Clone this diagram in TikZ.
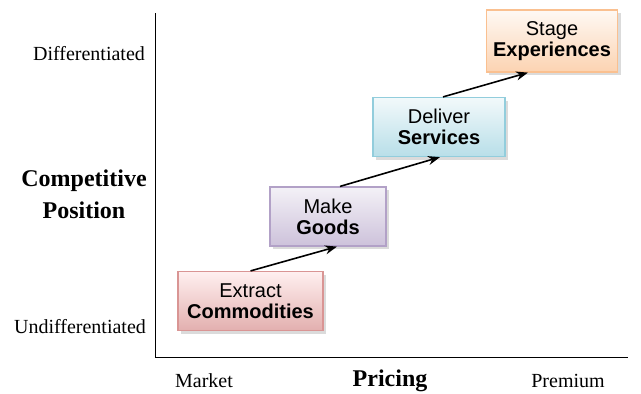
\documentclass[tikz,border=0pt]{standalone}
\usepackage{fontspec}
\setmainfont{Liberation Serif}
\setsansfont{Liberation Sans}
\usetikzlibrary{shadows,arrows.meta}
\definecolor{commline}{HTML}{D99594}
\definecolor{goodline}{HTML}{B2A1C7}
\definecolor{servline}{HTML}{92CDDC}
\definecolor{expline}{HTML}{FAC090}
\begin{document}
\begin{tikzpicture}[x=0.5pt,y=-0.5pt,
  stage/.style={draw, line width=0.6pt, minimum height=29.5pt, align=center,
    font=\sffamily\fontsize{10}{10.5}\selectfont,
    drop shadow={shadow xshift=1.5pt, shadow yshift=-1.5pt, fill=black!35, opacity=0.4}},
  axislabel/.style={font=\fontsize{10}{12}\selectfont},
  axistitle/.style={font=\bfseries\fontsize{12}{16}\selectfont, align=center},
  step arrow/.style={-{Stealth[length=6pt,width=4.5pt]}, line width=0.8pt}]
\useasboundingbox (0,0) rectangle (641,393);
% axes
\coordinate (top) at (155,13);
\coordinate (origin) at (155,357);
\coordinate (right) at (628,357);
\draw[line width=0.5pt] (top) -- (origin) -- (right);
\node[axislabel] (diff) at (89,54) {Differentiated};
\node[axislabel] (undiff) at (80,327) {Undifferentiated};
\node[axistitle] (position) at (84,194) {Competitive\\Position};
\node[axislabel] (market) at (204,381) {Market};
\node[axistitle] (pricing) at (390,381) {Pricing};
\node[axislabel] (premium) at (568,381) {Premium};
% stages
\node[stage, minimum width=72.5pt, draw=commline, top color=red!6, bottom color=commline!75]
  (commodities) at (250.5,301) {Extract\\\textbf{Commodities}};
\node[stage, minimum width=58pt, draw=goodline, top color=goodline!15, bottom color=goodline!65]
  (goods) at (328,216.5) {Make\\\textbf{Goods}};
\node[stage, minimum width=66pt, draw=servline, top color=servline!12, bottom color=servline!65]
  (services) at (439,127) {Deliver\\\textbf{Services}};
\node[stage, minimum width=65pt, minimum height=31pt, draw=expline, top color=expline!10, bottom color=expline!70]
  (experiences) at (552,41) {Stage\\\textbf{Experiences}};
% progression
\draw[step arrow] (commodities.north) -- ([xshift=4.5pt]goods.south);
\draw[step arrow] ([xshift=6pt]goods.north) -- ([xshift=0.5pt]services.south);
\draw[step arrow] ([xshift=2pt]services.north) -- ([xshift=-12pt]experiences.south);
\end{tikzpicture}
\end{document}
